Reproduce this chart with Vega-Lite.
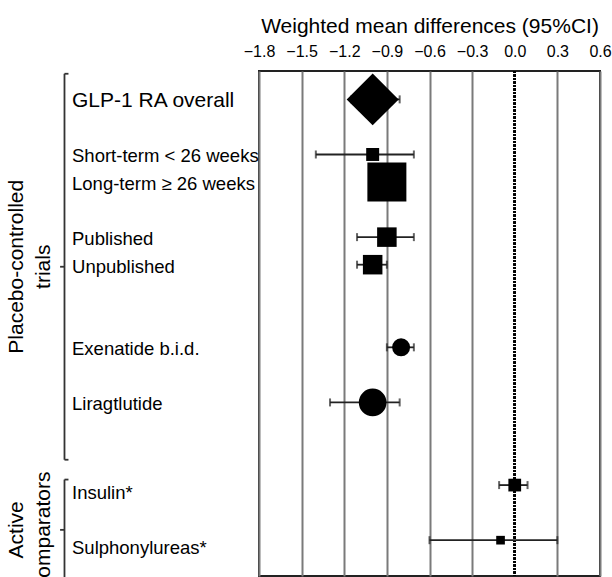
{
  "$schema": "https://vega.github.io/schema/vega-lite/v6.json",
  "width": 341,
  "height": 505,
  "autosize": "none",
  "padding": {"left": 259, "top": 71, "right": 12, "bottom": 1},
  "background": "white",
  "config": {
    "font": "Liberation Sans",
    "view": {"stroke": "#222", "strokeWidth": 2}
  },
  "datasets": {
    "items": [
      {"label": "GLP-1 RA overall", "row": 1, "est": -1.00, "lo": -1.15, "hi": -0.81, "kind": "overall", "weight": 90.1, "group": "Placebo"},
      {"label": "Short-term < 26 weeks", "row": 3, "est": -1.00, "lo": -1.40, "hi": -0.71, "kind": "subgroup", "weight": 5.6, "group": "Placebo"},
      {"label": "Long-term ≥ 26 weeks", "row": 4, "est": -0.90, "lo": -1.00, "hi": -0.80, "kind": "subgroup", "weight": 50.7, "group": "Placebo"},
      {"label": "Published", "row": 6, "est": -0.90, "lo": -1.11, "hi": -0.71, "kind": "subgroup", "weight": 12.7, "group": "Placebo"},
      {"label": "Unpublished", "row": 7, "est": -1.00, "lo": -1.11, "hi": -0.90, "kind": "subgroup", "weight": 12.7, "group": "Placebo"},
      {"label": "Exenatide b.i.d.", "row": 10, "est": -0.80, "lo": -0.90, "hi": -0.71, "kind": "drug", "weight": 10.8, "group": "Placebo"},
      {"label": "Liragtlutide", "row": 12, "est": -1.00, "lo": -1.30, "hi": -0.81, "kind": "drug", "weight": 25.6, "group": "Placebo"},
      {"label": "Insulin*", "row": 15, "est": 0.00, "lo": -0.11, "hi": 0.09, "kind": "subgroup", "weight": 5.4, "group": "Active"},
      {"label": "Sulphonylureas*", "row": 17, "est": -0.10, "lo": -0.60, "hi": 0.30, "kind": "subgroup", "weight": 2.5, "group": "Active"}
    ],
    "groups": [
      {"name": "Placebo-controlled\ntrials", "start": 0.07, "end": 14.08},
      {"name": "Active\ncomparators", "start": 14.8, "end": 18.45}
    ]
  },
  "layer": [
    {
      "data": {"name": "items"},
      "mark": {"type": "rule", "color": "black", "strokeWidth": 2.5, "strokeDash": [2, 1.5]},
      "encoding": {
        "x": {"datum": 0, "type": "quantitative",
          "scale": {"domain": [-1.8, 0.6], "nice": false, "zero": false},
          "axis": {
            "orient": "top",
            "values": [-1.8, -1.5, -1.2, -0.9, -0.6, -0.3, 0.0, 0.3, 0.6],
            "format": ".1f",
            "title": "Weighted mean differences (95%CI)",
            "titleFontSize": 21,
            "titleFontWeight": "normal",
            "titleColor": "black",
            "titlePadding": 7,
            "labelFontSize": 16,
            "labelColor": "black",
            "labelPadding": 12,
            "labelFlush": false,
            "labelOverlap": false,
            "ticks": false,
            "domain": false,
            "grid": true,
            "gridColor": {"condition": {"test": "datum.value === 0", "value": "transparent"}, "value": "#7a7a7a"},
            "gridWidth": 2,
            "gridOpacity": 1
          }
        }
      }
    },
    {
      "data": {"name": "items"},
      "mark": {"type": "rule", "color": "#222", "strokeWidth": 1.8},
      "encoding": {
        "x": {"field": "lo", "type": "quantitative"},
        "x2": {"field": "hi"},
        "y": {"field": "row", "type": "quantitative",
          "scale": {"domain": [-0.03, 18.3], "reverse": true, "nice": false, "zero": false},
          "axis": null}
      }
    },
    {
      "data": {"name": "items"},
      "mark": {"type": "tick", "orient": "vertical", "color": "#222", "size": 8, "thickness": 2},
      "encoding": {
        "x": {"field": "lo", "type": "quantitative"},
        "y": {"field": "row", "type": "quantitative"}
      }
    },
    {
      "data": {"name": "items"},
      "mark": {"type": "tick", "orient": "vertical", "color": "#222", "size": 8, "thickness": 2},
      "encoding": {
        "x": {"field": "hi", "type": "quantitative"},
        "y": {"field": "row", "type": "quantitative"}
      }
    },
    {
      "data": {"name": "items"},
      "mark": {"type": "point", "filled": true, "opacity": 1, "color": "black", "strokeWidth": 0},
      "encoding": {
        "x": {"field": "est", "type": "quantitative"},
        "y": {"field": "row", "type": "quantitative"},
        "shape": {"field": "kind", "type": "nominal",
          "scale": {"domain": ["overall", "subgroup", "drug"], "range": ["diamond", "square", "circle"]},
          "legend": null},
        "size": {"field": "weight", "type": "quantitative",
          "scale": {"type": "linear", "domain": [0, 100], "range": [0, 3000], "zero": true},
          "legend": null}
      }
    },
    {
      "data": {"name": "items"},
      "transform": [{"filter": "datum.group === 'Placebo'"}],
      "mark": {"type": "text", "align": "left", "baseline": "middle", "color": "black", "dy": 2},
      "encoding": {
        "x": {"datum": -3.116, "type": "quantitative"},
        "y": {"field": "row", "type": "quantitative"},
        "text": {"field": "label"},
        "size": {"condition": {"test": "datum.kind === 'overall'", "value": 21}, "value": 18.5}
      }
    },
    {
      "data": {"name": "items"},
      "transform": [{"filter": "datum.group === 'Active'"}],
      "mark": {"type": "text", "align": "left", "baseline": "middle", "color": "black", "dy": 8, "fontSize": 18.5},
      "encoding": {
        "x": {"datum": -3.116, "type": "quantitative"},
        "y": {"field": "row", "type": "quantitative"},
        "text": {"field": "label"}
      }
    },
    {
      "data": {"name": "groups"},
      "mark": {"type": "rule", "color": "#333", "strokeWidth": 1.8},
      "encoding": {
        "x": {"datum": -3.169, "type": "quantitative"},
        "y": {"field": "start", "type": "quantitative"},
        "y2": {"field": "end"}
      }
    },
    {
      "data": {"name": "groups"},
      "mark": {"type": "rule", "color": "#333", "strokeWidth": 1.8},
      "encoding": {
        "x": {"datum": -3.169, "type": "quantitative"},
        "x2": {"datum": -3.141},
        "y": {"field": "start", "type": "quantitative"}
      }
    },
    {
      "data": {"name": "groups"},
      "mark": {"type": "rule", "color": "#333", "strokeWidth": 1.8},
      "encoding": {
        "x": {"datum": -3.169, "type": "quantitative"},
        "x2": {"datum": -3.141},
        "y": {"field": "end", "type": "quantitative"}
      }
    },
    {
      "data": {"name": "groups"},
      "transform": [{"calculate": "(datum.start + datum.end) / 2", "as": "mid"}],
      "mark": {"type": "rule", "color": "#333", "strokeWidth": 1.8},
      "encoding": {
        "x": {"datum": -3.2, "type": "quantitative"},
        "x2": {"datum": -3.169},
        "y": {"field": "mid", "type": "quantitative"}
      }
    },
    {
      "data": {"name": "groups"},
      "transform": [{"calculate": "(datum.start + datum.end) / 2", "as": "mid"}],
      "mark": {"type": "text", "angle": 270, "align": "center", "baseline": "middle", "fontSize": 21, "lineBreak": "\n", "lineHeight": 27, "color": "black"},
      "encoding": {
        "x": {"datum": -3.5, "type": "quantitative"},
        "y": {"field": "mid", "type": "quantitative"},
        "text": {"field": "name"}
      }
    }
  ]
}
